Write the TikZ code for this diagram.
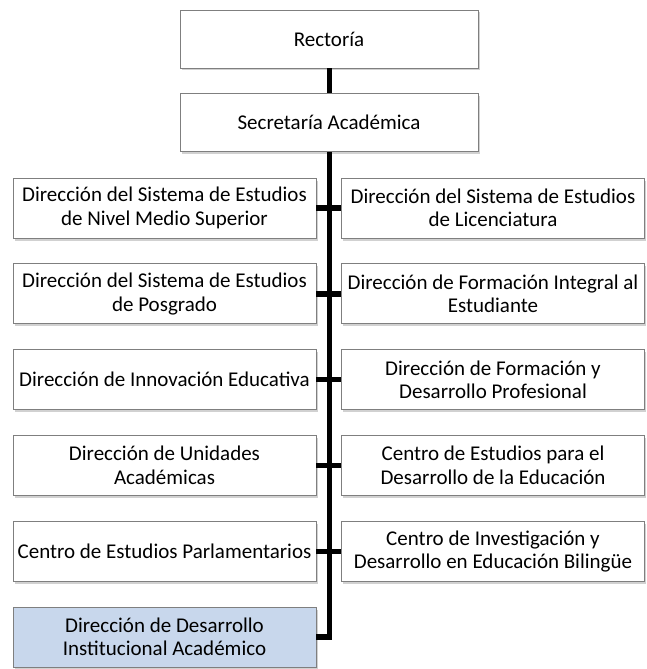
\documentclass[tikz,border=0pt]{standalone}
\usepackage{fontspec}
\setmainfont{Carlito}
\usetikzlibrary{shadows}
\definecolor{boxline}{HTML}{7F7F7F}
\definecolor{hilite}{HTML}{C8D7EC}
\begin{document}
\begin{tikzpicture}[x=1pt,y=-1pt,
  orgbox/.style={draw=boxline, line width=0.8pt, fill=white, rectangle, align=center,
    inner sep=1pt, font=\fontsize{21}{23.5}\selectfont,
    drop shadow={shadow xshift=1.5pt, shadow yshift=-2.5pt, fill=black!45, opacity=0.4}},
  topbox/.style={orgbox, minimum width=298pt, minimum height=58pt},
  sidebox/.style={orgbox, minimum width=303pt, minimum height=60pt},
  link/.style={line width=5.5pt, black}]
\useasboundingbox (0,0) rectangle (646,669);
\node[topbox] (rec) at (329,39) {Rectoría};
\node[topbox] (sec) at (329,122.5) {Secretaría Académica};
\node[sidebox] (l1) at (164.5,208) {Dirección del Sistema de Estudios\\de Nivel Medio Superior};
\node[sidebox] (r1) at (493,208) {Dirección del Sistema de Estudios\\de Licenciatura};
\node[sidebox] (l2) at (164.5,293.8) {Dirección del Sistema de Estudios\\de Posgrado};
\node[sidebox] (r2) at (493,293.8) {Dirección de Formación Integral al\\Estudiante};
\node[sidebox] (l3) at (164.5,379.6) {Dirección de Innovación Educativa};
\node[sidebox] (r3) at (493,379.6) {Dirección de Formación y\\Desarrollo Profesional};
\node[sidebox] (l4) at (164.5,465.4) {Dirección de Unidades\\Académicas};
\node[sidebox] (r4) at (493,465.4) {Centro de Estudios para el\\Desarrollo de la Educación};
\node[sidebox] (l5) at (164.5,551.5) {Centro de Estudios Parlamentarios};
\node[sidebox] (r5) at (493,551.5) {Centro de Investigación y\\Desarrollo en Educación Bilingüe};
\node[sidebox, fill=hilite] (l6) at (164.5,637) {Dirección de Desarrollo\\Institucional Académico};
\coordinate (t1) at (329.5,208);
\coordinate (t2) at (329.5,293.8);
\coordinate (t3) at (329.5,379.6);
\coordinate (t4) at (329.5,465.4);
\coordinate (t5) at (329.5,551.5);
\coordinate (t6) at (329.5,637);
\draw[link] (rec.south -| t1) -- (sec.north -| t1);
\draw[link] (sec.south -| t1) -- (t6) -- (l6.east);
\foreach \i in {1,...,5}{
  \draw[link] (l\i.east) -- (t\i);
  \draw[link] (t\i) -- (r\i.west);
}
\end{tikzpicture}
\end{document}
